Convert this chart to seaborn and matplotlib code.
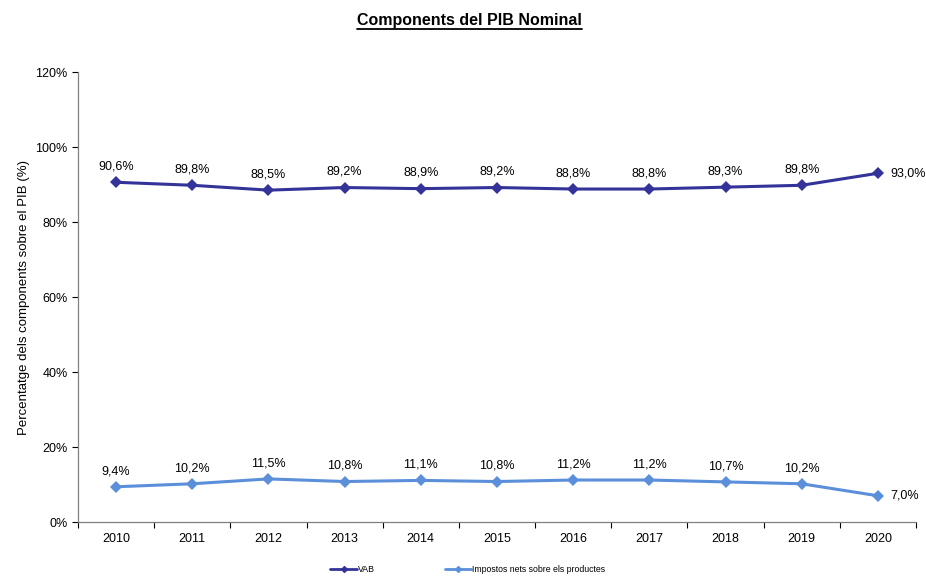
import numpy as np
import pandas as pd
import seaborn as sns
import matplotlib.pyplot as plt
from matplotlib.ticker import FuncFormatter

years = ["2010", "2011", "2012", "2013", "2014", "2015", "2016", "2017", "2018", "2019", "2020"]
vab = [90.6, 89.8, 88.5, 89.2, 88.9, 89.2, 88.8, 88.8, 89.3, 89.8, 93.0]
impostos = [9.4, 10.2, 11.5, 10.8, 11.1, 10.8, 11.2, 11.2, 10.7, 10.2, 7.0]
series_names = ["VAB", "Impostos nets sobre els productes"]
colors = ["#333399", "#5B8FD9"]

sns.set_theme(style="white")
plt.rcParams["font.family"] = ["Liberation Sans", "DejaVu Sans"]
plt.rcParams["text.color"] = "black"
plt.rcParams["axes.labelcolor"] = "black"
plt.rcParams["xtick.color"] = "black"
plt.rcParams["ytick.color"] = "black"

df = pd.DataFrame({
    "pos": list(range(len(years))) * 2,
    "value": vab + impostos,
    "serie": [series_names[0]] * len(years) + [series_names[1]] * len(years),
})

fig = plt.figure(figsize=(9.26, 5.79), dpi=100)
ax = fig.add_axes([0.0842, 0.0984, 0.905, 0.7772])

sns.lineplot(data=df, x="pos", y="value", hue="serie", palette=colors,
             marker="D", markersize=6, markeredgewidth=0, linewidth=2.2,
             ax=ax, legend=False)

fmt = lambda v: f"{v:.1f}%".replace(".", ",")
for vals in [vab, impostos]:
    for i, v in enumerate(vals):
        if i == len(vals) - 1:
            ax.annotate(fmt(v), (i, v), xytext=(9, 0), textcoords="offset points",
                        ha="left", va="center", fontsize=9)
        else:
            ax.annotate(fmt(v), (i, v), xytext=(0, 7), textcoords="offset points",
                        ha="center", va="bottom", fontsize=9)

ax.set_xlim(-0.5, len(years) - 0.5)
ax.set_ylim(0, 120)
ax.set_yticks(np.arange(0, 121, 20))
ax.yaxis.set_major_formatter(FuncFormatter(lambda v, p: f"{int(v)}%"))
ax.set_xticks(range(len(years)))
ax.set_xticklabels(years)
ax.set_xticks(np.arange(-0.5, len(years), 1), minor=True)
ax.tick_params(axis="x", which="major", length=0, labelsize=9, pad=8)
ax.tick_params(axis="x", which="minor", length=4, width=0.8, color="black", direction="out", bottom=True)
ax.tick_params(axis="y", length=4, width=0.8, color="black", direction="out", left=True, labelsize=9)
ax.set_xlabel("")
ax.set_ylabel("Percentatge dels components sobre el PIB (%)", fontsize=9.5)

for s in ["top", "right"]:
    ax.spines[s].set_visible(False)
for s in ["left", "bottom"]:
    ax.spines[s].set_color("#808080")
    ax.spines[s].set_linewidth(0.9)

t = fig.text(0.507, 0.965, "Components del PIB Nominal", ha="center", va="center",
             fontsize=11.5, fontweight="bold")
fig.canvas.draw()
bb = t.get_window_extent()
fig.add_artist(plt.Line2D([bb.x0 / fig.dpi / 9.26, bb.x1 / fig.dpi / 9.26],
                          [(bb.y0 - 1) / fig.dpi / 5.79] * 2, color="black", linewidth=1.3))

handles = [plt.Line2D([], [], color=c, marker="D", markersize=3, linewidth=2) for c in colors]
fig.legend(handles, series_names, loc="lower center", bbox_to_anchor=(0.505, -0.005), ncol=2,
           frameon=False, fontsize=6.3, handlelength=3, handletextpad=0.1, columnspacing=8)

fig.savefig("out.png", dpi=100)
